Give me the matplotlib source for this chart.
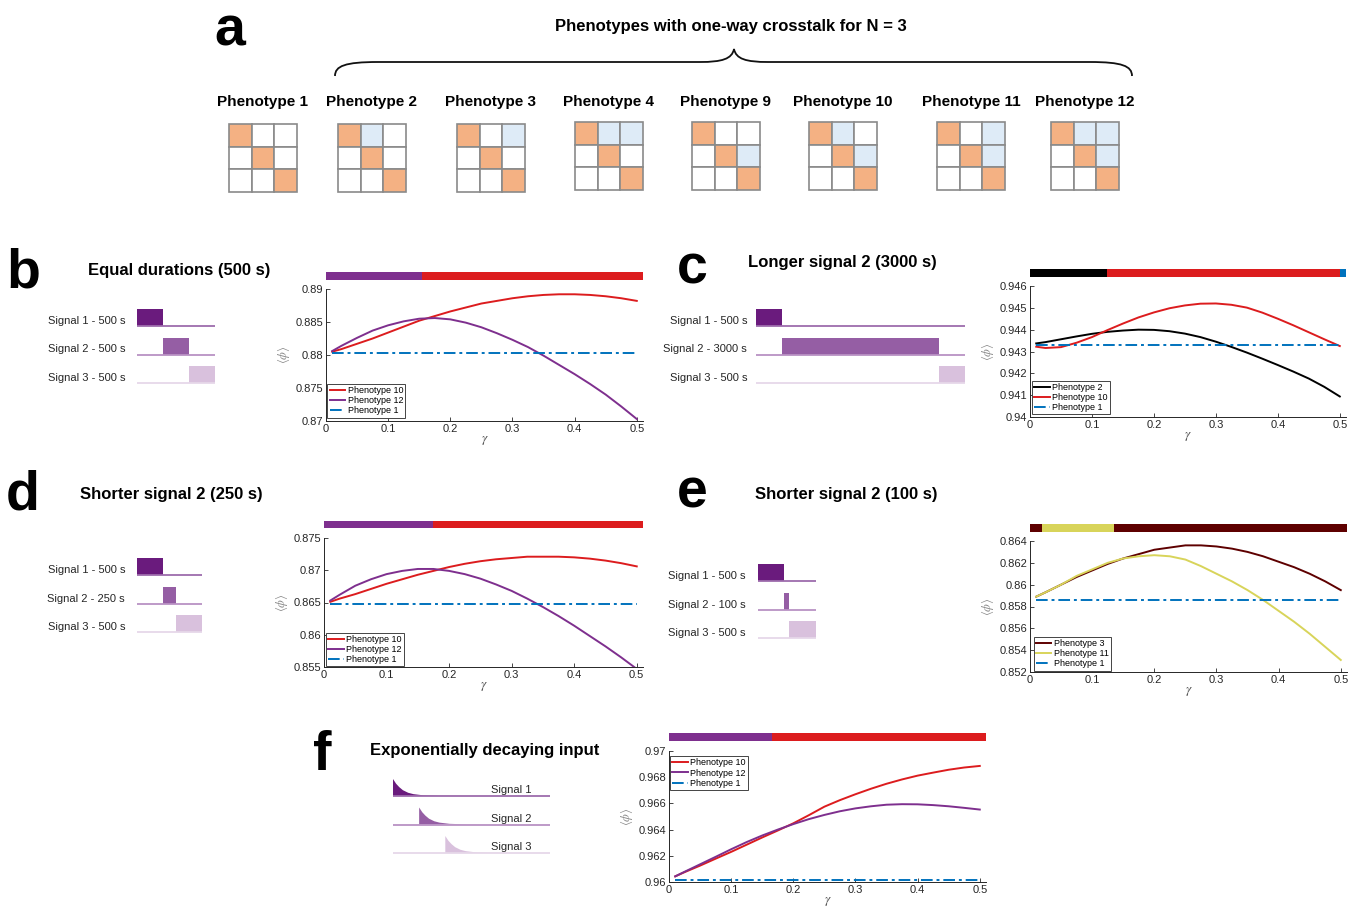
import matplotlib.pyplot as plt
from matplotlib.patches import Rectangle, PathPatch
from matplotlib.path import Path
from matplotlib.ticker import FormatStrFormatter

plt.rcParams['font.family'] = ['Liberation Sans', 'DejaVu Sans']
plt.rcParams['mathtext.fontset'] = 'stix'

W, H = 1358, 910

# ---------------- data ----------------
gamma = [0.01, 0.025, 0.05, 0.075, 0.1, 0.125, 0.15, 0.175, 0.2, 0.225, 0.25,
         0.275, 0.3, 0.325, 0.35, 0.375, 0.4, 0.425, 0.45, 0.475, 0.5]

phenotype_names = ['Phenotype 1', 'Phenotype 2', 'Phenotype 3', 'Phenotype 4',
                   'Phenotype 9', 'Phenotype 10', 'Phenotype 11', 'Phenotype 12']
# off-diagonal (row, col) cells with crosstalk
crosstalk_cells = [[], [(0, 1)], [(0, 2)], [(0, 1), (0, 2)], [(1, 2)],
                   [(0, 1), (1, 2)], [(0, 2), (1, 2)], [(0, 1), (0, 2), (1, 2)]]

# b: equal durations
b_durations = [500, 500, 500]
b_ph10 = [0.8805, 0.8809, 0.8817, 0.8825, 0.8834, 0.8843, 0.8852, 0.8859, 0.8866, 0.8872, 0.8878,
          0.8882, 0.8886, 0.8889, 0.8891, 0.8892, 0.8892, 0.8891, 0.8889, 0.8886, 0.8882]
b_ph12 = [0.8806, 0.8814, 0.8826, 0.8837, 0.8845, 0.8851, 0.8855, 0.8856, 0.8854, 0.8849, 0.8842,
          0.8833, 0.8823, 0.8812, 0.8799, 0.8785, 0.8771, 0.8756, 0.8740, 0.8722, 0.8703]
b_ph1 = 0.8803
b_strip_edges = [0, 0.155, 0.51]
b_strip_names = ['Phenotype 12', 'Phenotype 10']

# c: longer signal 2
c_durations = [500, 3000, 500]
c_ph2 = [0.94337, 0.94343, 0.94356, 0.94369, 0.94381, 0.94390, 0.94396, 0.94400, 0.94399, 0.94393, 0.94382,
         0.94366, 0.94345, 0.94321, 0.94295, 0.94267, 0.94238, 0.94208, 0.94176, 0.94138, 0.94094]
c_ph10 = [0.94322, 0.94316, 0.94320, 0.94340, 0.94366, 0.94398, 0.94428, 0.94456, 0.94479, 0.94498, 0.94511,
          0.94519, 0.94520, 0.94514, 0.94501, 0.94478, 0.94450, 0.94420, 0.94388, 0.94356, 0.94325]
c_ph1 = 0.94328
c_strip_edges = [0, 0.125, 0.5, 0.51]
c_strip_names = ['Phenotype 2', 'Phenotype 10', 'Phenotype 1']

# d: shorter signal 2 (250 s)
d_durations = [500, 250, 500]
d_ph10 = [0.8651, 0.8656, 0.8663, 0.8671, 0.8679, 0.8686, 0.8693, 0.8699, 0.8705, 0.8710, 0.8714,
          0.8717, 0.8719, 0.8721, 0.8721, 0.8721, 0.8720, 0.8718, 0.8715, 0.8711, 0.8706]
d_ph12 = [0.8653, 0.8662, 0.8676, 0.8686, 0.8694, 0.8699, 0.8702, 0.8702, 0.8699, 0.8694, 0.8687,
          0.8678, 0.8668, 0.8656, 0.8643, 0.8629, 0.8614, 0.8598, 0.8582, 0.8565, 0.8547]
d_ph1 = 0.8648
d_strip_edges = [0, 0.175, 0.51]
d_strip_names = ['Phenotype 12', 'Phenotype 10']

# e: shorter signal 2 (100 s)
e_durations = [500, 100, 500]
e_ph3 = [0.8589, 0.8593, 0.8600, 0.8607, 0.8613, 0.8619, 0.8624, 0.8628, 0.8632, 0.8634, 0.8636,
         0.8636, 0.8635, 0.8633, 0.8630, 0.8626, 0.8621, 0.8616, 0.8610, 0.8603, 0.8595]
e_ph11 = [0.8589, 0.8593, 0.8600, 0.8608, 0.8614, 0.8620, 0.8624, 0.8626, 0.8627, 0.8626, 0.8623,
          0.8617, 0.8610, 0.8603, 0.8595, 0.8586, 0.8576, 0.8566, 0.8555, 0.8543, 0.8531]
e_ph1 = 0.85856
e_strip_edges = [0, 0.02, 0.135, 0.51]
e_strip_names = ['Phenotype 3', 'Phenotype 11', 'Phenotype 3']

# f: exponentially decaying input
f_decay_t = [0, 60, 120, 190, 290, 390, 580, 870, 1350]     # s after onset
f_decay_level = [1.0, 0.72, 0.52, 0.34, 0.19, 0.11, 0.04, 0.01, 0.0]
f_onsets = [0, 500, 1000]
f_total = 3000
f_ph10 = [0.96043, 0.96075, 0.96125, 0.96178, 0.96230, 0.96285, 0.96340, 0.96393, 0.96448, 0.96510, 0.96575,
          0.96625, 0.96670, 0.96712, 0.96750, 0.96783, 0.96812, 0.96835, 0.96857, 0.96874, 0.96886]
f_ph12 = [0.96043, 0.96078, 0.96135, 0.96192, 0.96250, 0.96305, 0.96355, 0.96400, 0.96442, 0.96480, 0.96512,
          0.96540, 0.96562, 0.96578, 0.96590, 0.96594, 0.96593, 0.96587, 0.96578, 0.96566, 0.96553]
f_ph1 = 0.96015
f_strip_edges = [0, 0.165, 0.51]
f_strip_names = ['Phenotype 12', 'Phenotype 10']

# ---------------- styles ----------------
phen_colors = {'Phenotype 1': '#0072bd', 'Phenotype 2': '#000000', 'Phenotype 3': '#5e0000',
               'Phenotype 10': '#dc1c1e', 'Phenotype 11': '#d8d45a', 'Phenotype 12': '#7e2f8e'}
sig_colors = ['#6a1b7d', '#955ea4', '#d9c1dd']
base_colors = ['#9d6cac', '#b992c4', '#e6d8e9']
ORANGE, BLUE_CELL, GRID_EDGE = '#f4b183', '#deebf7', '#8a8a8a'
TXT = '#262626'
SCALE = 0.0523  # px per second in the signal sketches

fig = plt.figure(figsize=(W / 100, H / 100), dpi=100)
bg = fig.add_axes([0, 0, 1, 1])
bg.set_xlim(0, W)
bg.set_ylim(H, 0)
bg.axis('off')


def px_axes(x0, y0, x1, y1):
    return fig.add_axes([x0 / W, 1 - y1 / H, (x1 - x0) / W, (y1 - y0) / H])


# ---------------- panel a ----------------
bg.text(214, 45, 'a', fontsize=40, fontweight='bold', va='baseline')
bg.text(731, 26, 'Phenotypes with one-way crosstalk for N = 3', fontsize=12,
        fontweight='bold', ha='center', va='center')
brace = Path([(335, 76), (335, 66), (345, 62), (378, 62), (700, 62),
              (722, 62), (732, 59), (734, 49), (736, 59), (746, 62), (768, 62),
              (1090, 62), (1122, 62), (1132, 66), (1132, 76)],
             [Path.MOVETO, Path.CURVE4, Path.CURVE4, Path.CURVE4, Path.LINETO,
              Path.CURVE4, Path.CURVE4, Path.CURVE4, Path.CURVE4, Path.CURVE4, Path.CURVE4,
              Path.LINETO, Path.CURVE4, Path.CURVE4, Path.CURVE4])
bg.add_patch(PathPatch(brace, fill=False, lw=1.3, color='#111111'))

grid_left = [229, 338, 457, 575, 692, 809, 937, 1051]
grid_top = [124, 124, 124, 122, 122, 122, 122, 122]
cell = 22.6
for name, cells, gx, gy in zip(phenotype_names, crosstalk_cells, grid_left, grid_top):
    bg.text(gx + 1.5 * cell, 102, name, fontsize=11, fontweight='bold', ha='center', va='center')
    for r in range(3):
        for c in range(3):
            if r == c:
                fc = ORANGE
            elif (r, c) in cells:
                fc = BLUE_CELL
            else:
                fc = 'white'
            bg.add_patch(Rectangle((gx + c * cell, gy + r * cell), cell, cell,
                                   facecolor=fc, edgecolor=GRID_EDGE, lw=1.2))


# ---------------- signal sketches ----------------
def draw_pulses(x0, top, durations, gap=11):
    total = sum(durations)
    start = 0
    for i, d in enumerate(durations):
        y = top + i * 28.5
        bg.plot([x0, x0 + total * SCALE], [y + 17, y + 17], color=base_colors[i], lw=1.3,
                solid_capstyle='butt')
        bg.add_patch(Rectangle((x0 + start * SCALE, y), d * SCALE, 17, facecolor=sig_colors[i], lw=0))
        bg.text(x0 - gap, y + 12, f'Signal {i + 1} - {d} s', fontsize=8, color=TXT,
                ha='right', va='center')
        start += d


def draw_decays(x0, base0):
    for i, t0 in enumerate(f_onsets):
        yb = base0 + i * 28.5
        bg.plot([x0, x0 + f_total * SCALE], [yb, yb], color=base_colors[i], lw=1.3,
                solid_capstyle='butt')
        xs = [x0 + (t0 + t) * SCALE for t in f_decay_t]
        ys = [yb - 17 * v for v in f_decay_level]
        bg.fill(xs + [xs[-1], xs[0]], ys + [yb, yb], color=sig_colors[i], lw=0)
        bg.text(491, yb - 6, f'Signal {i + 1}', fontsize=8, color=TXT, ha='left', va='center')


def result_panel(box, strip_y, ylim, yticks, curves, ph1, strip_edges, strip_names,
                 loc, anchor):
    x0, y0, x1, y1 = box
    sax = px_axes(x0, strip_y[0], x1, strip_y[1])
    for i, name in enumerate(strip_names):
        sax.barh(0, strip_edges[i + 1] - strip_edges[i], left=strip_edges[i], height=1,
                 color=phen_colors[name], lw=0)
    sax.set_xlim(0, 0.51)
    sax.set_ylim(-0.5, 0.5)
    sax.axis('off')

    ax = px_axes(x0, y0, x1, y1)
    for name, vals in curves:
        ax.plot(gamma, vals, color=phen_colors[name], lw=1.4, label=name)
    ax.plot([gamma[0], gamma[-1]], [ph1, ph1], color=phen_colors['Phenotype 1'], lw=1.4,
            ls=(0, (6, 2, 1.5, 2)), label='Phenotype 1')
    ax.set_xlim(0, 0.51)
    ax.set_ylim(*ylim)
    ax.set_xticks([0, 0.1, 0.2, 0.3, 0.4, 0.5])
    ax.set_yticks(yticks)
    ax.xaxis.set_major_formatter(FormatStrFormatter('%g'))
    ax.yaxis.set_major_formatter(FormatStrFormatter('%g'))
    ax.tick_params(direction='in', length=3, width=0.6, labelsize=8, colors=TXT, pad=2)
    for s in ['top', 'right']:
        ax.spines[s].set_visible(False)
    for s in ['left', 'bottom']:
        ax.spines[s].set_color(TXT)
        ax.spines[s].set_linewidth(0.7)
    ax.set_xlabel(r'$\gamma$', fontsize=9.5, color='#555555', labelpad=0)
    ax.set_ylabel(r'$\langle\phi\rangle$', fontsize=9, color='#8a8a8a')
    ax.yaxis.set_label_coords(-0.107, 0.5)
    leg = ax.legend(loc=loc, bbox_to_anchor=anchor, fontsize=6.5, handlelength=1.7,
                    handletextpad=0.3, labelspacing=0.12, borderpad=0.25, borderaxespad=0,
                    fancybox=False, framealpha=1, edgecolor='#444444')
    leg.get_frame().set_linewidth(0.7)
    return ax


# ---------------- panel b ----------------
bg.text(6, 288, 'b', fontsize=40, fontweight='bold', va='baseline')
bg.text(88, 270, 'Equal durations (500 s)', fontsize=12, fontweight='bold', va='center')
draw_pulses(137, 309, b_durations, gap=12)
result_panel((326, 289, 643, 421), (272, 280), (0.87, 0.89),
             [0.87, 0.875, 0.88, 0.885, 0.89],
             [('Phenotype 10', b_ph10), ('Phenotype 12', b_ph12)], b_ph1,
             b_strip_edges, b_strip_names, 'lower left', (0.004, 0.025))

# ---------------- panel c ----------------
bg.text(677, 284, 'c', fontsize=40, fontweight='bold', va='baseline')
bg.text(748, 262, 'Longer signal 2 (3000 s)', fontsize=12, fontweight='bold', va='center')
draw_pulses(756, 309, c_durations, gap=9)
result_panel((1030, 286, 1346, 417), (269, 277), (0.94, 0.946),
             [0.94, 0.941, 0.942, 0.943, 0.944, 0.945, 0.946],
             [('Phenotype 2', c_ph2), ('Phenotype 10', c_ph10)], c_ph1,
             c_strip_edges, c_strip_names, 'lower left', (0.006, 0.02))

# ---------------- panel d ----------------
bg.text(6, 510, 'd', fontsize=40, fontweight='bold', va='baseline')
bg.text(80, 495, 'Shorter signal 2 (250 s)', fontsize=12, fontweight='bold', va='center')
draw_pulses(137, 558, d_durations, gap=12)
result_panel((324, 538, 643, 667), (521, 528), (0.855, 0.875),
             [0.855, 0.86, 0.865, 0.87, 0.875],
             [('Phenotype 10', d_ph10), ('Phenotype 12', d_ph12)], d_ph1,
             d_strip_edges, d_strip_names, 'lower left', (0.006, 0.005))

# ---------------- panel e ----------------
bg.text(677, 508, 'e', fontsize=40, fontweight='bold', va='baseline')
bg.text(755, 495, 'Shorter signal 2 (100 s)', fontsize=12, fontweight='bold', va='center')
draw_pulses(758, 564, e_durations, gap=12)
result_panel((1030, 541, 1347, 672), (524, 532), (0.852, 0.864),
             [0.852, 0.854, 0.856, 0.858, 0.86, 0.862, 0.864],
             [('Phenotype 3', e_ph3), ('Phenotype 11', e_ph11)], e_ph1,
             e_strip_edges, e_strip_names, 'lower left', (0.012, 0.01))

# ---------------- panel f ----------------
bg.text(313, 770, 'f', fontsize=40, fontweight='bold', va='baseline')
bg.text(370, 751, 'Exponentially decaying input', fontsize=12, fontweight='bold', va='center')
draw_decays(393, 796)
result_panel((669, 751, 986, 882), (733, 741), (0.96, 0.97),
             [0.96, 0.962, 0.964, 0.966, 0.968, 0.97],
             [('Phenotype 10', f_ph10), ('Phenotype 12', f_ph12)], f_ph1,
             f_strip_edges, f_strip_names, 'upper left', (0.003, 0.96))

fig.savefig('out.png', dpi=100)
